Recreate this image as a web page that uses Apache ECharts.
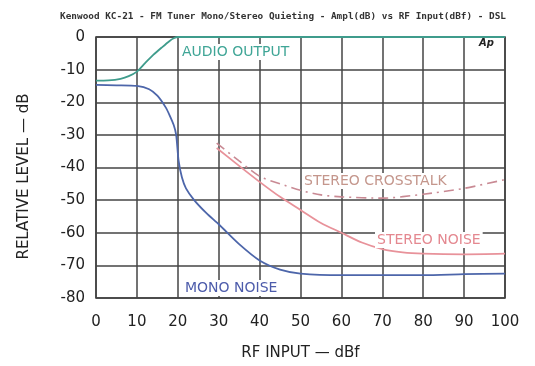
<!DOCTYPE html>
<html><head><meta charset="utf-8">
<script src="https://cdn.jsdelivr.net/npm/echarts@6/dist/echarts.min.js"></script>
<style>html,body{margin:0;padding:0;background:#fff}#c{width:535px;height:366px}</style>
</head><body><div id="c"></div>
<script>
var titleText = 'Kenwood KC-21 - FM Tuner Mono/Stereo Quieting - Ampl(dB) vs RF Input(dBf) - DSL';
var xTicks = [0,10,20,30,40,50,60,70,80,90,100];
var yTicks = [0,-10,-20,-30,-40,-50,-60,-70,-80];

var audioX = [0,3,6,8,10,12,14,16,18,19,20,25,30,40,50,60,70,80,90,100];
var audioY = [-13.4,-13.3,-12.8,-12,-10.6,-8,-5.5,-3.3,-1.2,-0.4,0,0,0,0,0,0,0,0,0,0];

var monoX = [0,5,10,13,15,17,18,19,19.6,20.2,21,22,24,27,30,35,40,45,50,60,70,80,90,100];
var monoY = [-14.7,-14.8,-15,-16,-18,-21.5,-24,-27,-30,-38,-43,-46.4,-50,-54,-57.4,-63.5,-68.5,-71.3,-72.5,-73,-73,-73,-72.7,-72.5];

var noiseX = [29.5,35,40,45,50,55,60,65,70,75,80,90,100];
var noiseY = [-34,-39.5,-44.4,-49,-53,-57,-60,-63,-65,-66,-66.4,-66.6,-66.4];

var xtalkX = [29.5,35,40,45,50,55,60,70,80,90,100];
var xtalkY = [-32.5,-38,-42.7,-45,-47,-48.4,-49,-49.4,-48.2,-46.4,-43.7];

function pairs(xs, ys){ return xs.map(function(x,i){ return [x, ys[i]]; }); }

var chart = echarts.init(document.getElementById('c'), null, {renderer:'canvas'});
var labelFont = 'DejaVu Sans';
chart.setOption({
  animation: false,
  backgroundColor: '#fff',
  title: {
    text: titleText, left: 278, textAlign: 'center', top: 7,
    textStyle: {fontFamily: 'DejaVu Sans Mono', fontSize: 9.4, fontWeight: 'bold', color: '#333'}
  },
  grid: {left: 96, right: 30, top: 37, bottom: 63, show: true, borderColor: '#333', borderWidth: 1.5},
  xAxis: {
    type: 'value', min: 0, max: 100, interval: 10,
    name: 'RF INPUT — dBf', nameLocation: 'middle', nameGap: 48,
    nameTextStyle: {fontFamily: labelFont, fontSize: 15, color: '#222'},
    axisLine: {show: false}, axisTick: {show: false},
    axisLabel: {fontFamily: labelFont, fontSize: 15, color: '#222', margin: 17},
    splitLine: {lineStyle: {color: '#444', width: 1.5}}
  },
  yAxis: {
    type: 'value', min: -80, max: 0, interval: 10,
    name: 'RELATIVE LEVEL — dB', nameLocation: 'middle', nameGap: 64, nameRotate: 90,
    nameTextStyle: {fontFamily: labelFont, fontSize: 15, color: '#222', padding: [0, 18, 0, 0]},
    axisLine: {show: false}, axisTick: {show: false},
    axisLabel: {fontFamily: labelFont, fontSize: 15, color: '#222', margin: 11},
    splitLine: {lineStyle: {color: '#444', width: 1.5}}
  },
  series: [
    {type: 'line', data: pairs(audioX, audioY), smooth: 0.25, showSymbol: false,
     lineStyle: {color: '#3f9c8c', width: 1.8}, z: 3},
    {type: 'line', data: pairs(monoX, monoY), smooth: 0.25, showSymbol: false,
     lineStyle: {color: '#4d66aa', width: 1.8}, z: 3},
    {type: 'line', data: pairs(noiseX, noiseY), smooth: 0.25, showSymbol: false,
     lineStyle: {color: '#e8929a', width: 1.8}, z: 3},
    {type: 'line', data: pairs(xtalkX, xtalkY), smooth: 0.25, showSymbol: false,
     lineStyle: {color: '#c98a94', width: 1.6, type: [10,5,2,5]}, z: 3}
  ],
  graphic: [
    {type: 'text', left: 180, top: 44, z: 10, style: {text: 'AUDIO OUTPUT', fill: '#3fa596', font: '14px "DejaVu Sans"', backgroundColor: '#fff', padding: [1,2]}},
    {type: 'text', left: 302, top: 173, z: 10, style: {text: 'STEREO CROSSTALK', fill: '#c4968c', font: '14px "DejaVu Sans"', backgroundColor: '#fff', padding: [1,2]}},
    {type: 'text', left: 375, top: 232, z: 10, style: {text: 'STEREO NOISE', fill: '#e48890', font: '14px "DejaVu Sans"', backgroundColor: '#fff', padding: [1,2]}},
    {type: 'text', left: 183, top: 280, z: 10, style: {text: 'MONO NOISE', fill: '#4d5cab', font: '14px "DejaVu Sans"', backgroundColor: '#fff', padding: [1,2]}},
    {type: 'text', left: 479, top: 38, z: 10, style: {text: 'Ap', fill: '#222', font: 'italic bold 10px "DejaVu Sans"'}}
  ]
});
</script></body></html>
